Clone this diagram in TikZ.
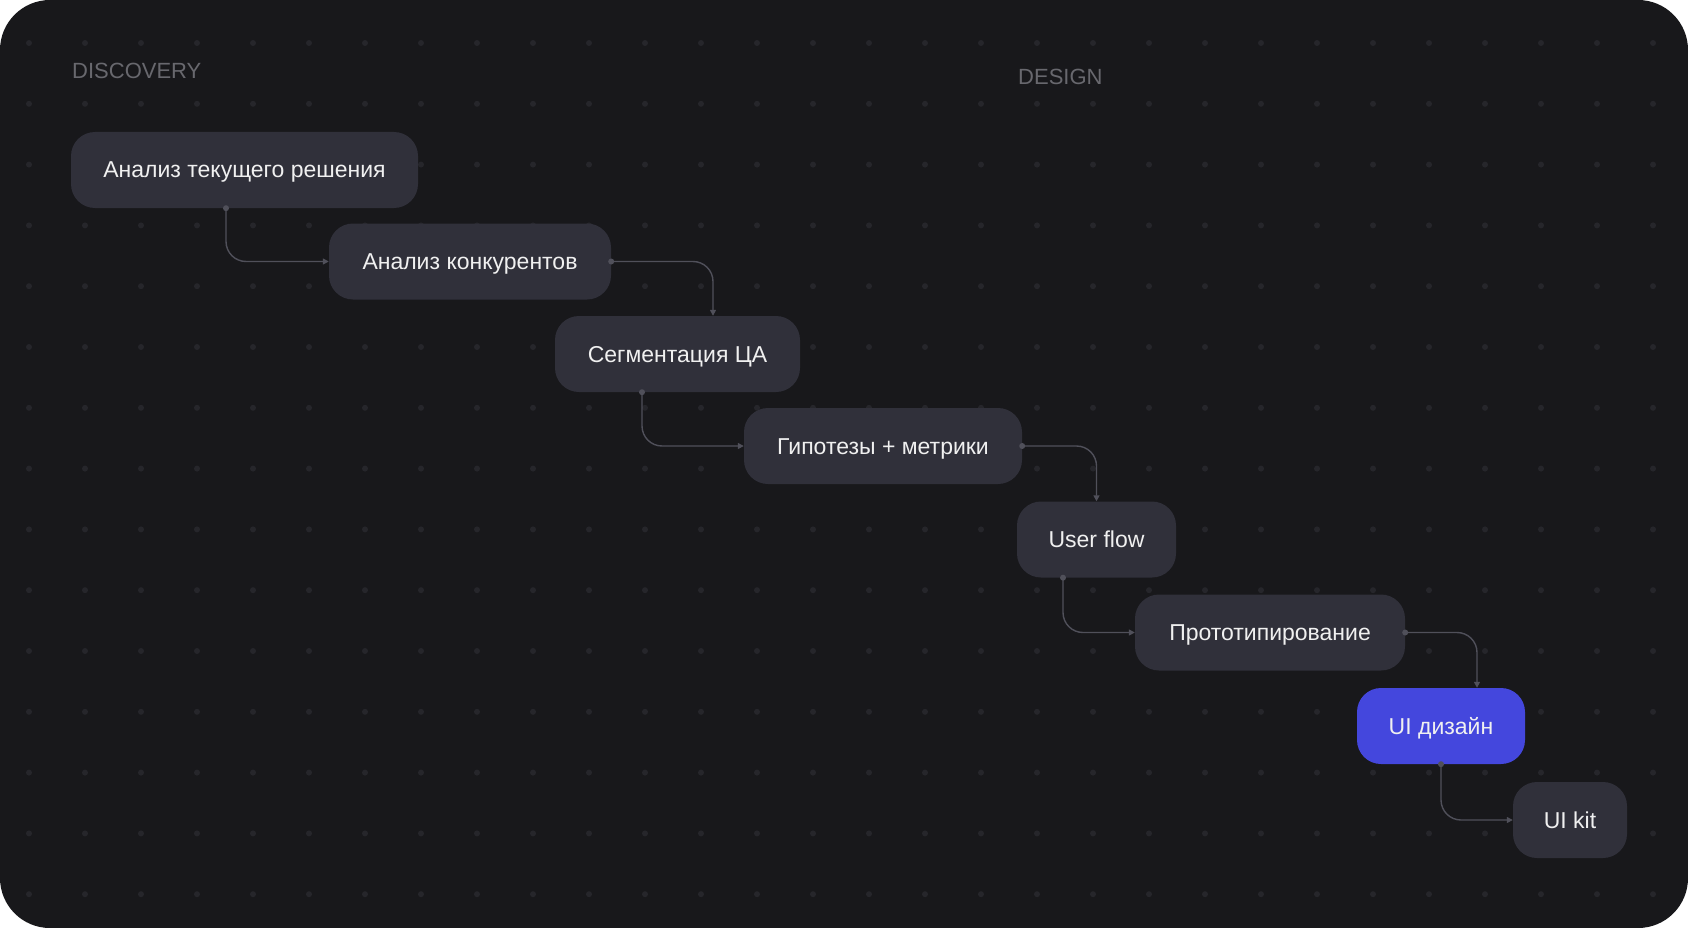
\documentclass[tikz,border=0pt]{standalone}
\usepackage{fontspec}
\setmainfont{Liberation Sans}
\usepackage{tikz}
\usetikzlibrary{arrows.meta}

\definecolor{canvas}{HTML}{18181B}
\definecolor{griddot}{HTML}{26262B}
\definecolor{stagefill}{HTML}{30303A}
\definecolor{stageblue}{HTML}{4447DD}
\definecolor{linkgrey}{HTML}{50505A}
\definecolor{phasegrey}{HTML}{68686E}
\newcommand{\labelsize}{\fontsize{23}{27}\selectfont}
\newcommand{\phasesize}{\fontsize{22}{26}\selectfont}

\begin{document}
\begin{tikzpicture}[x=1pt,y=-1pt,
  link/.style={draw=linkgrey,line width=1.4pt,rounded corners=20pt,
    -{Triangle[length=6pt,width=6pt]}},
  linkdot/.style={fill=linkgrey}]
  \tikzstyle{stage}=[fill=stagefill,draw=none,text=white!94!black,rounded corners=24pt,
    minimum height=76pt,inner sep=0pt,text height=16pt,text depth=0pt,font=\labelsize]
  \tikzstyle{phase}=[text=phasegrey,anchor=base west,inner sep=0pt,font=\phasesize]

  \useasboundingbox (0,0) rectangle (1688,928);
  \fill[white] (0,0) rectangle (1688,928);
  \fill[canvas,rounded corners=50pt] (0,0) rectangle (1688,928);

  % dotted background
  \foreach \i in {0,...,29}
    \foreach \j in {0,...,14}
      \fill[griddot] (29+56*\i,43+60.8*\j) circle (3pt);

  \node[phase] (discovery) at (72,79) {DISCOVERY};
  \node[phase] (design) at (1018,84.7) {DESIGN};

  \node[stage,minimum width=347pt] (A) at (244.5,170)  {Анализ текущего решения};
  \node[stage,minimum width=282pt] (B) at (470,261.5)  {Анализ конкурентов};
  \node[stage,minimum width=245pt] (C) at (677.5,354)  {Сегментация ЦА};
  \node[stage,minimum width=278pt] (D) at (883,446)    {Гипотезы + метрики};
  \node[stage,minimum width=159pt] (E) at (1096.5,539.5) {User flow};
  \node[stage,minimum width=270pt] (F) at (1270,632.5) {Прототипирование};
  \node[stage,minimum width=168pt,fill=stageblue] (G) at (1441,726) {UI дизайн};
  \node[stage,minimum width=114pt] (H) at (1570,820)   {UI kit};

  \draw[link] ([xshift=-18.5pt]A.south) |- (B.west);
  \draw[link] (B.east) -| ([xshift=35.5pt]C.north);
  \draw[link] ([xshift=-35.5pt]C.south) |- (D.west);
  \draw[link] (D.east) -| (E.north);
  \draw[link] ([xshift=-33.5pt]E.south) |- (F.west);
  \draw[link] (F.east) -| ([xshift=36pt]G.north);
  \draw[link] (G.south) |- (H.west);

  % start dots
  \fill[linkdot] ([xshift=-18.5pt]A.south) circle (3pt);
  \fill[linkdot] (B.east) circle (3pt);
  \fill[linkdot] ([xshift=-35.5pt]C.south) circle (3pt);
  \fill[linkdot] (D.east) circle (3pt);
  \fill[linkdot] ([xshift=-33.5pt]E.south) circle (3pt);
  \fill[linkdot] (F.east) circle (3pt);
  \fill[linkdot] (G.south) circle (3pt);
\end{tikzpicture}
\end{document}
